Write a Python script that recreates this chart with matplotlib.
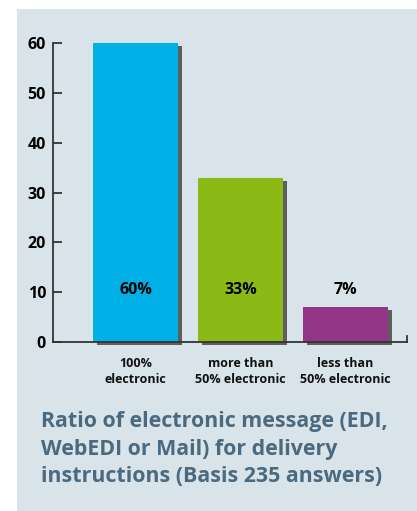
import matplotlib
matplotlib.use("Agg")
import matplotlib.pyplot as plt
import matplotlib.patheffects as pe
from matplotlib.patches import Rectangle
from matplotlib.lines import Line2D

categories = ["100%\nelectronic", "more than\n50% electronic", "less than\n50% electronic"]
values = [60, 33, 7]
value_labels = ["60%", "33%", "7%"]
colors = ["#00b0e6", "#8bba17", "#933688"]
yticks = [0, 10, 20, 30, 40, 50, 60]
title_lines = ["Ratio of electronic message (EDI,", "WebEDI or Mail) for delivery",
               "instructions (Basis 235 answers)"]

W, H = 417, 511
fig = plt.figure(figsize=(W / 100, H / 100), dpi=100)
fig.patch.set_facecolor("white")
fig.patches.append(Rectangle((17 / W, 0), 1 - 17 / W, (H - 9) / H,
                             transform=fig.transFigure, facecolor="#d9e3ea",
                             edgecolor="none", zorder=-10))

ax = fig.add_axes([53 / W, (H - 342) / H, 354 / W, 299 / H])
ax.set_zorder(1)
ax.set_facecolor("none")
x = list(range(len(values)))
bars = ax.bar(x, values, width=0.81, color=colors, zorder=2)
for b in bars:
    b.set_path_effects([pe.SimplePatchShadow(offset=(2.6, -2.4), shadow_rgbFace="#5e5e5e", alpha=1.0),
                        pe.Normal()])
    b.set_clip_on(False)

ax.set_xlim(-0.786, 2.586)
ax.set_ylim(0, 60)
for s in ["top", "right"]:
    ax.spines[s].set_visible(False)
for s in ["left", "bottom"]:
    ax.spines[s].set_color("#333333")
    ax.spines[s].set_linewidth(1.3)
    ax.spines[s].set_zorder(5)

ax.set_yticks(yticks)
ax.set_yticklabels([str(t) for t in yticks], fontfamily="Open Sans", fontweight="bold",
                   fontsize=11.5, color="black")
ax.tick_params(axis="y", direction="in", length=6.5, width=1.3, color="#333333", pad=5)
ax.set_xticks(x)
ax.set_xticklabels(categories, fontfamily="Open Sans", fontweight="bold", fontsize=9,
                   color="#111111", linespacing=1.25)
ax.tick_params(axis="x", length=0, pad=11)

ax.add_line(Line2D([1, 1], [0, 0.02], transform=ax.transAxes, color="#333333",
                   lw=1.3, clip_on=False, zorder=5))

for xi, lab in zip(x, value_labels):
    ax.text(xi, 10.4, lab, ha="center", va="center", fontfamily="Open Sans",
            fontweight="bold", fontsize=11.5, color="black", zorder=6)

for i, line in enumerate(title_lines):
    fig.text(41 / W, (H - (427 + 27.5 * i)) / H, line, ha="left", va="baseline",
             fontfamily="Open Sans", fontweight="bold", fontsize=15.4, color="#4b6a80")

fig.savefig("out.png", dpi=100, facecolor=fig.get_facecolor())
